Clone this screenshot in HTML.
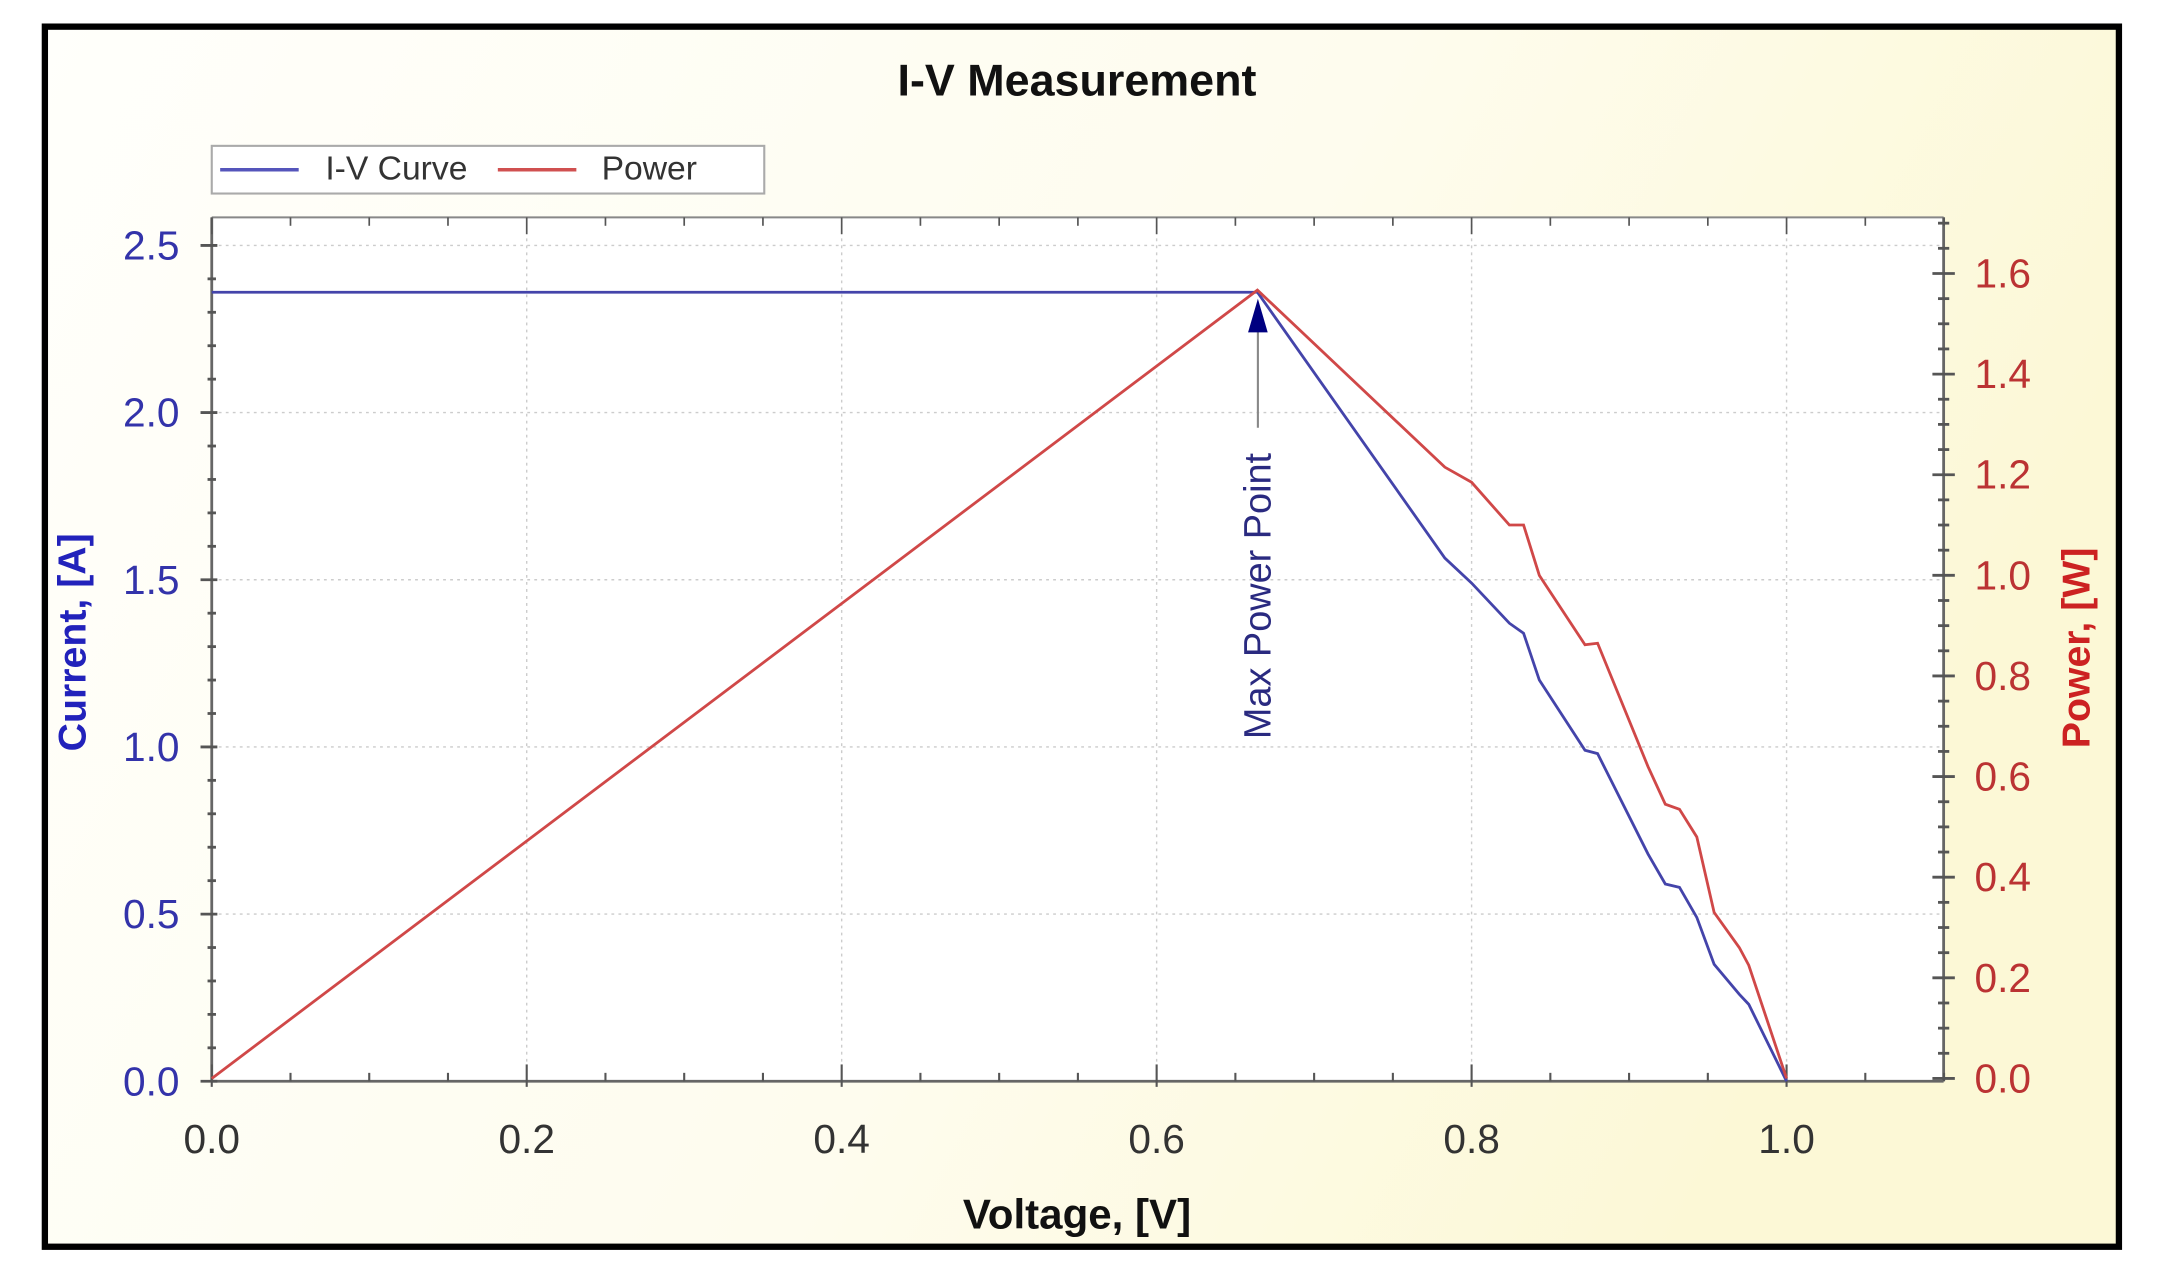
<!DOCTYPE html>
<html><head><meta charset="utf-8">
<style>
html,body{margin:0;padding:0;background:#fff;}
svg{display:block;}
text{font-family:"Liberation Sans Narrow","Liberation Sans",sans-serif;}
</style></head>
<body>
<svg id="chart" width="2168" height="1279" viewBox="0 0 1546 912" preserveAspectRatio="none" xmlns="http://www.w3.org/2000/svg">
<defs>
<linearGradient id="bg" x1="0" y1="0" x2="1" y2="0.3">
<stop offset="0" stop-color="#fffffb"/><stop offset="0.6" stop-color="#fefcee"/><stop offset="1" stop-color="#fcf8d6"/>
</linearGradient>
</defs>
<rect x="0" y="0" width="1546" height="912" fill="#fff"/>
<rect x="32" y="19" width="1479" height="870" fill="url(#bg)" stroke="#000" stroke-width="4.5"/>
<text x="768" y="68" text-anchor="middle" font-size="32" font-weight="bold" fill="#111">I-V Measurement</text>
<g>
<rect x="151" y="104" width="394" height="34" fill="#fff" stroke="#aaa" stroke-width="1.5"/>
<line x1="157" y1="121" x2="213" y2="121" stroke="#5555bb" stroke-width="2.5"/>
<text x="232" y="128" font-size="24" fill="#333">I-V Curve</text>
<line x1="355" y1="121" x2="411" y2="121" stroke="#d05050" stroke-width="2.5"/>
<text x="429" y="128" font-size="24" fill="#333">Power</text>
</g>
<rect x="151" y="155" width="1235" height="616" fill="#fff"/>
<g id="grid"></g>
<g id="axes"></g>
<g id="series"></g>
<g>
<line x1="897" y1="305" x2="897" y2="235" stroke="#888" stroke-width="1.5"/>
<polygon points="897,213 890,237 904,237" fill="#000080"/>
<text x="0" y="0" transform="translate(906,425) rotate(-90)" text-anchor="middle" font-size="27" fill="#2a2a80" font-family="Liberation Sans, sans-serif">Max Power Point</text>
</g>
<text transform="translate(61,458) rotate(-90)" text-anchor="middle" font-size="28" font-weight="bold" fill="#2222bb" font-family="Liberation Sans, sans-serif">Current, [A]</text>
<text transform="translate(1490,462) rotate(-90)" text-anchor="middle" font-size="28" font-weight="bold" fill="#cc2222" font-family="Liberation Sans, sans-serif">Power, [W]</text>
<text x="768" y="876" text-anchor="middle" font-size="30" font-weight="bold" fill="#111">Voltage, [V]</text>
</svg>
<script>
const voltage=[0,0.664,0.783,0.8,0.824,0.833,0.843,0.872,0.88,0.912,0.923,0.932,0.943,0.954,0.97,0.976,1.0];
const current=[2.36,2.36,1.565,1.49,1.37,1.34,1.20,0.99,0.98,0.68,0.59,0.58,0.49,0.35,0.26,0.23,0];
const power=[0,1.567,1.215,1.185,1.10,1.10,1.00,0.862,0.865,0.620,0.545,0.535,0.48,0.33,0.26,0.225,0];
const xTicks=["0.0","0.2","0.4","0.6","0.8","1.0"];
const yLeftTicks=["0.0","0.5","1.0","1.5","2.0","2.5"];
const yRightTicks=["0.0","0.2","0.4","0.6","0.8","1.0","1.2","1.4","1.6"];
const NS="http://www.w3.org/2000/svg";
const L=151,R=1386,T=155,B=771;
const sx=v=>L+v*1123;
const syL=v=>B-v*238.4;
const syR=v=>769-v*358.75;
function mk(tag,attrs,parent){const e=document.createElementNS(NS,tag);for(const k in attrs)e.setAttribute(k,attrs[k]);parent.appendChild(e);return e;}
const grid=document.getElementById('grid'),axes=document.getElementById('axes'),series=document.getElementById('series');
xTicks.forEach(t=>{const x=sx(+t);if(x>L+1){const g=mk('line',{x1:x,y1:T,x2:x,y2:B,stroke:'#ccc','stroke-width':1,'stroke-dasharray':'2,3'},grid);}});
yLeftTicks.forEach(t=>{const y=syL(+t);if(y<B-1){const g=mk('line',{x1:L,y1:y,x2:R,y2:y,stroke:'#ccc','stroke-width':1,'stroke-dasharray':'2,3'},grid);}});
mk('line',{x1:L,y1:B,x2:R,y2:B,stroke:'#666','stroke-width':2},axes);
mk('line',{x1:L,y1:T,x2:R,y2:T,stroke:'#888','stroke-width':1.5},axes);
mk('line',{x1:L,y1:T,x2:L,y2:B,stroke:'#666','stroke-width':2},axes);
mk('line',{x1:R,y1:T,x2:R,y2:B,stroke:'#666','stroke-width':2},axes);
for(let i=0;i<=22;i++){const v=i*0.05,x=sx(v),maj=i%4==0;
 mk('line',{x1:x,y1:B-(maj?12:6),x2:x,y2:B+(maj?4:0),stroke:'#555','stroke-width':1.5},axes);
 mk('line',{x1:x,y1:T,x2:x,y2:T+(maj?12:6),stroke:'#555','stroke-width':1.2},axes);}
xTicks.forEach(t=>{const e=mk('text',{x:sx(+t),y:822,'text-anchor':'middle','font-size':'29',fill:'#333'},axes);e.textContent=t;
 });
for(let i=0;i<=25;i++){const y=syL(i*0.1),maj=i%5==0;
 mk('line',{x1:L-(maj?8:3),y1:y,x2:L+(maj?4:3),y2:y,stroke:'#555','stroke-width':2},axes);}
yLeftTicks.forEach(t=>{const e=mk('text',{x:128,y:syL(+t)+10,'text-anchor':'end','font-size':'29',fill:'#3333aa'},axes);e.textContent=t;
 });
for(let i=0;i<=34;i++){const y=syR(i*0.05),maj=i%4==0;if(y<T)continue;
 mk('line',{x1:R-(maj?8:4),y1:y,x2:R+(maj?8:4),y2:y,stroke:'#555','stroke-width':2},axes);}
yRightTicks.forEach(t=>{const e=mk('text',{x:1408,y:syR(+t)+10,'text-anchor':'start','font-size':'29',fill:'#bb3333'},axes);e.textContent=t;
 });
const ivPath=mk('polyline',{points:voltage.map((v,i)=>sx(v)+','+syL(current[i])).join(' '),fill:'none',stroke:'#4444aa','stroke-width':2},series);


const pPath=mk('polyline',{points:voltage.map((v,i)=>sx(v)+','+syR(power[i])).join(' '),fill:'none',stroke:'#d04848','stroke-width':2},series);


</script>
</body></html>
